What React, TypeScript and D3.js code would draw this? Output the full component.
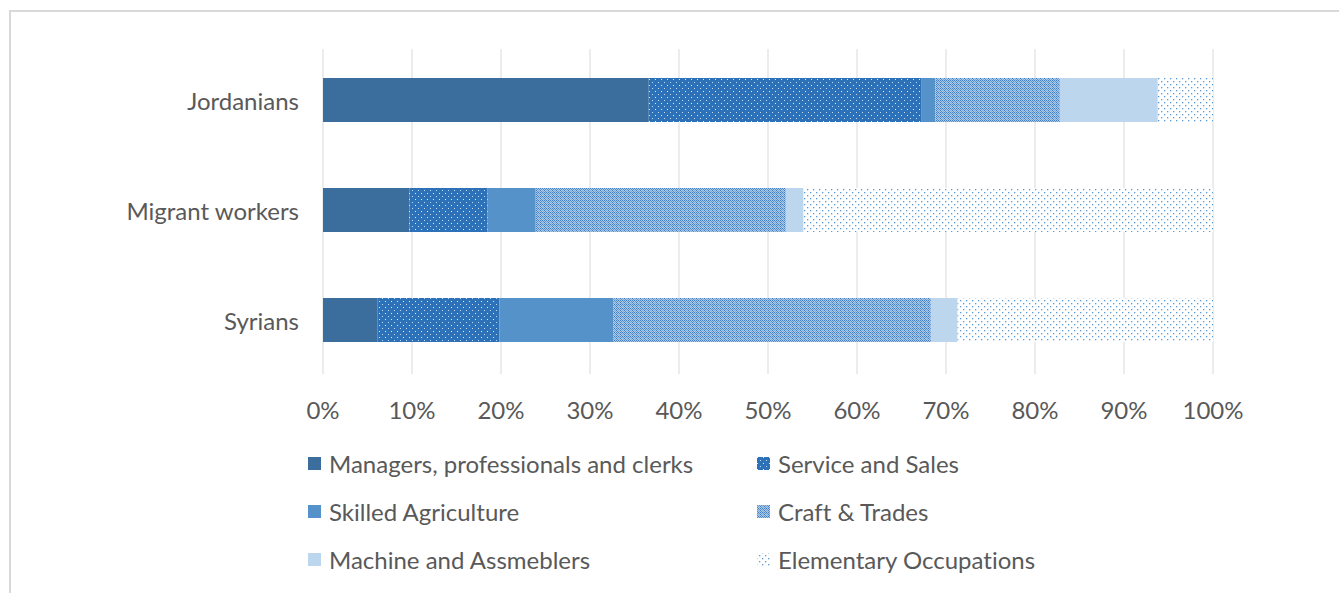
import React from "react";
import * as d3 from "d3";

const categories = ["Jordanians", "Migrant workers", "Syrians"];
const seriesNames = [
  "Managers, professionals and clerks",
  "Service and Sales",
  "Skilled Agriculture",
  "Craft & Trades",
  "Machine and Assmeblers",
  "Elementary Occupations",
];
const jordanians = [36.6, 30.6, 1.6, 14.0, 11.0, 6.2];
const migrantWorkers = [9.7, 8.8, 5.4, 28.1, 2.0, 46.0];
const syrians = [6.1, 13.7, 12.8, 35.7, 3.0, 28.7];
const tickValues = [0, 10, 20, 30, 40, 50, 60, 70, 80, 90, 100];

const values = [jordanians, migrantWorkers, syrians];
const fills = [
  "#3b6e9c",
  "url(#pService)",
  "#5592ca",
  "url(#pCraft)",
  "#bcd6ee",
  "url(#pElem)",
];
const FONT = "Lato, 'Open Sans', sans-serif";
const TEXT = "#595959";
const textStyle = { fontVariantLigatures: "none" as const };

export default function App() {
  const x = d3.scaleLinear().domain([0, 100]).range([323, 1213]);
  const y = d3.scaleBand().domain(categories).range([45, 375]).paddingInner(0.6).paddingOuter(0.3);
  const stackData = categories.map((c, i) => {
    const o: any = { cat: c };
    seriesNames.forEach((s, j) => (o[s] = values[i][j]));
    return o;
  });
  const stacked = d3.stack<any>().keys(seriesNames)(stackData);

  const legendCols = [308, 757];
  const legendRows = [463, 511, 559];

  return (
    <svg width={1339} height={593} style={{ position: "absolute", left: 0, top: 0 }}>
      <defs>
        <pattern id="pService" width="6" height="6" patternUnits="userSpaceOnUse">
          <rect width="6" height="6" fill="#2d72b8" />
          <rect x="1" y="1" width="1" height="1" fill="#e3eef8" />
          <rect x="4" y="4" width="1" height="1" fill="#c2d8ee" />
        </pattern>
        <pattern id="pCraft" width="4" height="4" patternUnits="userSpaceOnUse">
          <rect width="4" height="4" fill="#a9c8ea" />
          <rect x="0" y="0" width="1" height="1" fill="#3f7fc2" />
          <rect x="2" y="0" width="1" height="1" fill="#3f7fc2" />
          <rect x="1" y="1" width="1" height="1" fill="#5a94cf" />
          <rect x="3" y="1" width="1" height="1" fill="#5a94cf" />
          <rect x="0" y="2" width="1" height="1" fill="#3f7fc2" />
          <rect x="2" y="2" width="1" height="1" fill="#7aaada" />
          <rect x="1" y="3" width="1" height="1" fill="#5a94cf" />
          <rect x="3" y="3" width="1" height="1" fill="#7aaada" />
        </pattern>
        <pattern id="pElem" width="6" height="6" patternUnits="userSpaceOnUse">
          <rect width="6" height="6" fill="#ffffff" />
          <rect x="0" y="0" width="1.3" height="1.3" fill="#5b9bd5" />
          <rect x="3" y="3" width="1.3" height="1.3" fill="#5b9bd5" />
        </pattern>
      </defs>
      <rect x={10} y={11} width={1400} height={700} fill="#fff" stroke="#d9d9d9" strokeWidth={2} />

      {tickValues.map((t) => (
        <line key={t} x1={x(t)} x2={x(t)} y1={49} y2={374} stroke="#d9d9d9" strokeWidth={1} />
      ))}

      {stacked.map((layer, j) =>
        layer.map((d, i) => (
          <rect
            key={j + "-" + i}
            x={x(d[0])}
            y={y(categories[i])}
            width={x(d[1]) - x(d[0])}
            height={y.bandwidth()}
            fill={fills[j]}
          />
        ))
      )}

      {categories.map((c) => (
        <text key={c} x={299} y={(y(c) as number) + y.bandwidth() / 2} textAnchor="end" dominantBaseline="central"
          fontFamily={FONT} fontSize={24} fill={TEXT} style={textStyle}>
          {c}
        </text>
      ))}

      {tickValues.map((t) => (
        <text key={t} x={x(t)} y={409} textAnchor="middle" dominantBaseline="central"
          fontFamily={FONT} fontSize={24} fill={TEXT} style={textStyle}>
          {t + "%"}
        </text>
      ))}

      {seriesNames.map((s, k) => {
        const cx = legendCols[k % 2];
        const cy = legendRows[Math.floor(k / 2)];
        return (
          <g key={s}>
            <rect x={cx} y={cy - 6} width={13} height={13} fill={fills[k]} />
            <text x={cx + 21} y={cy} dominantBaseline="central" fontFamily={FONT} fontSize={24} fill={TEXT}
              style={textStyle}>
              {s}
            </text>
          </g>
        );
      })}
    </svg>
  );
}
